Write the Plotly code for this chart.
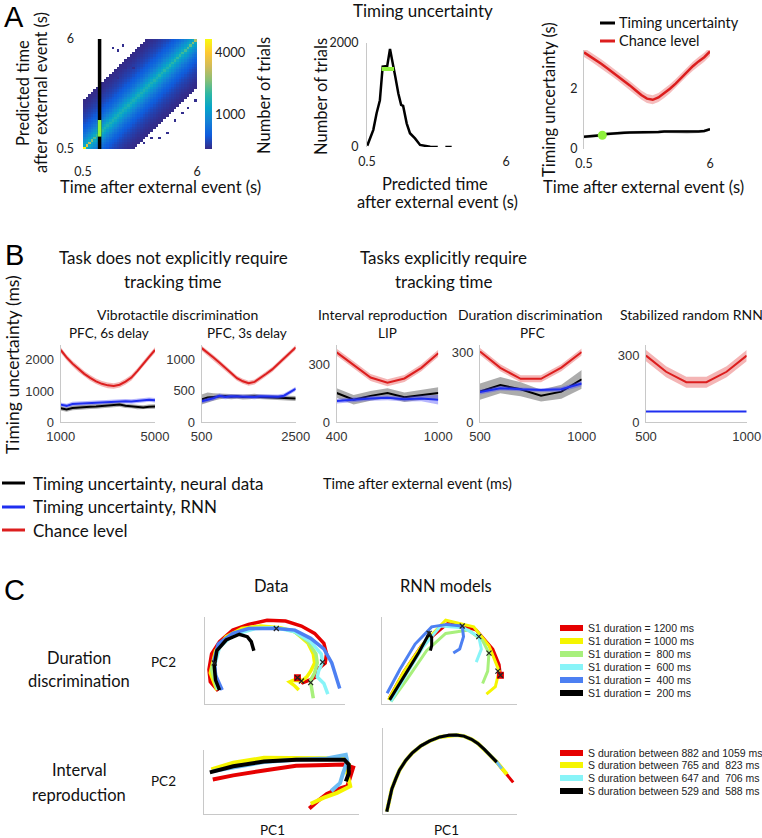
import math
import plotly.graph_objects as go

W, H = 762, 838
TXT = "Lato, sans-serif"
NUM = "Liberation Sans, Arial, sans-serif"

RED = "#dc1e1e"
BLUE = "#1f2ff0"

# ---------------- panel A data ----------------
hm_lo, hm_hi, hm_bins = 0.5, 6.0, 44
# counts as a function of distance (in bins) from the diagonal
band_profile = [1400, 1250, 1100, 980, 880, 800, 740, 690, 650, 620,
                590, 565, 545, 530, 515, 500, 490, 480, 475, 470]
# counts on the diagonal itself
diag_counts = [5200, 3400, 2600, 2100, 1800, 1600, 1500, 1450, 1450, 1400, 1400,
               1400, 1400, 1380, 1380, 1380, 1380, 1400, 1380, 1380, 1400, 1380,
               1400, 1400, 1380, 1400, 1400, 1450, 1400, 1450, 1450, 1500, 1450,
               1500, 1500, 1550, 1600, 1600, 1650, 1700, 1800, 1900, 2100, 2500]
outlier_x = [1.96, 2.20, 2.48, 2.77, 2.61, 2.93, 2.20, 0.68, 4.21, 4.62, 4.94,
             5.26, 5.58, 5.90, 3.41, 3.81, 2.77]
outlier_y = [5.62, 5.45, 5.70, 5.12, 4.62, 4.54, 4.04, 2.87, 1.12, 1.37, 1.95,
             2.37, 2.62, 2.95, 0.79, 1.04, 0.56]
outlier_count = 480
slice_time = 1.3
slice_band = [1.12, 1.95]

hist_x = [0.51, 0.65, 0.75, 0.88, 1.01, 1.12, 1.30, 1.41, 1.57, 1.62, 1.74, 1.85,
          1.93, 2.07, 2.20, 2.40, 2.60, 2.85, 3.00, 3.30, None, 3.60, 3.85]
hist_y = [25, 200, 330, 650, 900, 1545, 1560, 1885, 1510, 1350, 1030, 810,
          790, 455, 265, 165, 40, 20, 5, 0, None, 0, 0]
hist_band_x = [1.08, 1.57]
hist_band_y = [1500, 1500]

tu_x = [0.5, 0.75, 1.0, 1.25, 1.5, 1.75, 2.0, 2.25, 2.5, 2.75, 3.0, 3.25, 3.5,
        3.75, 4.0, 4.25, 4.5, 4.75, 5.0, 5.25, 5.5, 5.75, 6.0]
tu_chance = [3.22, 3.10, 2.98, 2.84, 2.70, 2.56, 2.42, 2.27, 2.12, 1.96, 1.80,
             1.68, 1.64, 1.72, 1.85, 2.01, 2.18, 2.38, 2.58, 2.76, 2.92, 3.06, 3.25]
tu_net = [0.41, 0.42, 0.43, 0.46, 0.50, 0.52, 0.53, 0.54, 0.55, 0.55, 0.56, 0.56,
          0.57, 0.57, 0.58, 0.58, 0.58, 0.57, 0.56, 0.56, 0.58, 0.60, 0.66]
tu_chance_err = [0.15] * 23
tu_net_err = [0.05] * 23
tu_dot = [1.3, 0.46]

# ---------------- panel B data ----------------
b1_x = [1000, 1250, 1500, 1750, 2000, 2250, 2500, 2750, 3000, 3250, 3500, 3750,
        4000, 4250, 4500, 4750, 5000]
b1_red = [2320, 2080, 1880, 1700, 1550, 1420, 1310, 1230, 1180, 1160, 1200, 1300,
          1430, 1640, 1880, 2100, 2320]
b1_blue = [560, 520, 580, 590, 600, 610, 630, 640, 650, 640, 660, 670, 660, 680,
           700, 720, 700]
b1_black = [440, 400, 450, 470, 480, 490, 500, 520, 530, 540, 560, 520, 510, 480,
            470, 490, 500]
b1_red_err = [90] * 17
b1_blue_err = [70] * 17
b1_black_err = [70] * 17

b2_x = [500, 625, 750, 875, 1000, 1125, 1250, 1375, 1500, 1625, 1750, 1875, 2000,
        2125, 2250, 2375, 2500]
b2_red = [1180, 1110, 1030, 950, 870, 780, 700, 650, 620, 640, 700, 770, 840, 930,
          1020, 1100, 1190]
b2_blue = [330, 350, 380, 420, 400, 410, 405, 410, 405, 400, 410, 405, 400, 405,
           420, 470, 530]
b2_black = [360, 390, 400, 410, 415, 405, 410, 400, 405, 410, 400, 395, 390, 395,
            385, 380, 375]
b2_red_err = [40] * 17
b2_blue_err = [35] * 17
b2_black_err = [80, 80, 60, 45, 40, 40, 40, 40, 40, 40, 40, 40, 40, 40, 40, 40, 40]

b3_x = [400, 500, 600, 700, 800, 900, 1000]
b3_red = [360, 295, 230, 203, 225, 280, 355]
b3_black = [150, 115, 135, 150, 128, 140, 150]
b3_blue = [108, 115, 122, 125, 118, 122, 115]
b3_red_err = [18] * 7
b3_black_err = [25, 25, 25, 25, 25, 25, 30]
b3_blue_err = [12, 12, 12, 12, 12, 15, 25]

b4_x = [500, 600, 700, 800, 900, 1000]
b4_red = [302, 232, 185, 185, 233, 300]
b4_black = [130, 158, 140, 113, 130, 183]
b4_blue = [128, 145, 140, 137, 140, 165]
b4_red_err = [15] * 6
b4_black_err = [35, 35, 30, 25, 30, 40]
b4_blue_err = [10, 10, 8, 8, 10, 12]

b5_x = [500, 600, 700, 800, 900, 1000]
b5_red = [300, 227, 180, 180, 227, 300]
b5_red_err = [25] * 6
b5_blue = [48, 48, 48, 48, 48, 48]

# ---------------- panel C data (normalised PC coordinates) ----------------
dd_red_x = [0.07, 0.01, 0.00, 0.02, 0.08, 0.18, 0.30, 0.44, 0.58, 0.70, 0.80, 0.87, 0.89, 0.88, 0.82, 0.81, 0.76, 0.71, 0.68]
dd_red_y = [0.13, 0.24, 0.39, 0.58, 0.73, 0.87, 0.94, 0.99, 0.98, 0.92, 0.83, 0.71, 0.58, 0.47, 0.39, 0.30, 0.26, 0.23, 0.28]
dd_yel_x = [0.06, 0.01, 0.05, 0.13, 0.25, 0.39, 0.54, 0.65, 0.75, 0.79, 0.80, 0.77, 0.74, 0.70, 0.64, 0.61, 0.65, 0.68]
dd_yel_y = [0.14, 0.35, 0.62, 0.79, 0.89, 0.92, 0.90, 0.85, 0.71, 0.58, 0.47, 0.37, 0.30, 0.25, 0.26, 0.24, 0.19, 0.14]
dd_grn_x = [0.06, 0.02, 0.06, 0.15, 0.30, 0.49, 0.63, 0.75, 0.81, 0.82, 0.80, 0.77, 0.77, 0.78, 0.79]
dd_grn_y = [0.16, 0.39, 0.62, 0.79, 0.89, 0.90, 0.87, 0.73, 0.58, 0.47, 0.35, 0.26, 0.23, 0.13, 0.04]
dd_cyn_x = [0.07, 0.04, 0.08, 0.18, 0.35, 0.51, 0.65, 0.77, 0.85, 0.86, 0.83, 0.82, 0.87, 0.90]
dd_cyn_y = [0.14, 0.43, 0.66, 0.81, 0.89, 0.90, 0.85, 0.73, 0.58, 0.48, 0.37, 0.30, 0.22, 0.09]
dd_blu_x = [0.10, 0.05, 0.04, 0.07, 0.18, 0.30, 0.51, 0.65, 0.77, 0.87, 0.93, 0.96, 0.99]
dd_blu_y = [0.14, 0.32, 0.51, 0.70, 0.83, 0.89, 0.89, 0.87, 0.77, 0.64, 0.47, 0.32, 0.16]
dd_blk_x = [0.08, 0.05, 0.04, 0.06, 0.13, 0.23, 0.29, 0.32, 0.34]
dd_blk_y = [0.14, 0.26, 0.43, 0.62, 0.75, 0.82, 0.79, 0.73, 0.62]
dd_mark_x = [0.04, 0.51, 0.86, 0.77, 0.70, 0.67]
dd_mark_y = [0.47, 0.89, 0.48, 0.23, 0.25, 0.29]

rd_blk_x = [0.03, 0.13, 0.26, 0.34, 0.36, 0.36, 0.35]
rd_blk_y = [0.02, 0.28, 0.60, 0.83, 0.78, 0.68, 0.62]
rd_blu_x = [0.01, 0.11, 0.23, 0.36, 0.48, 0.60, 0.61, 0.58, 0.53]
rd_blu_y = [0.10, 0.39, 0.70, 0.91, 0.94, 0.92, 0.79, 0.64, 0.59]
rd_cyn_x = [0.04, 0.16, 0.29, 0.43, 0.61, 0.73, 0.75, 0.71]
rd_cyn_y = [0.00, 0.33, 0.66, 0.92, 0.90, 0.79, 0.64, 0.48]
rd_grn_x = [0.04, 0.17, 0.32, 0.47, 0.65, 0.76, 0.81, 0.80, 0.76]
rd_grn_y = [0.00, 0.28, 0.62, 0.83, 0.87, 0.74, 0.59, 0.37, 0.22]
rd_yel_x = [0.02, 0.14, 0.29, 0.47, 0.69, 0.81, 0.89, 0.86, 0.79]
rd_yel_y = [0.02, 0.36, 0.70, 0.99, 0.91, 0.68, 0.37, 0.18, 0.09]
rd_red_x = [0.03, 0.14, 0.28, 0.50, 0.71, 0.84, 0.89, 0.90]
rd_red_y = [0.05, 0.36, 0.68, 0.97, 0.87, 0.64, 0.45, 0.32]
rd_mark_x = [0.34, 0.60, 0.73, 0.81, 0.88, 0.90]
rd_mark_y = [0.83, 0.92, 0.79, 0.59, 0.37, 0.32]

ir_red_x = [0.03, 0.17, 0.38, 0.60, 0.81, 0.93, 0.99, 0.97, 0.95, 0.88, 0.81, 0.75, 0.69]
ir_red_y = [0.54, 0.61, 0.69, 0.77, 0.78, 0.79, 0.74, 0.58, 0.43, 0.38, 0.30, 0.19, 0.06]
ir_yel_x = [0.02, 0.17, 0.38, 0.60, 0.81, 0.93, 0.96, 0.95, 0.97, 0.88, 0.79, 0.70]
ir_yel_y = [0.71, 0.82, 0.90, 0.90, 0.89, 0.89, 0.79, 0.64, 0.43, 0.32, 0.24, 0.14]
ir_cyn_x = [0.03, 0.17, 0.38, 0.60, 0.81, 0.94, 0.95, 0.92, 0.90, 0.84]
ir_cyn_y = [0.68, 0.74, 0.83, 0.87, 0.89, 0.95, 0.84, 0.64, 0.48, 0.35]
ir_blk_x = [0.01, 0.17, 0.38, 0.60, 0.81, 0.93, 0.96, 0.96, 0.94]
ir_blk_y = [0.66, 0.76, 0.84, 0.87, 0.87, 0.87, 0.79, 0.64, 0.51]

ri_x = [0.0, 0.02, 0.04, 0.07, 0.10, 0.15, 0.20, 0.27, 0.34, 0.42, 0.49, 0.55, 0.61,
        0.67, 0.72, 0.77, 0.82, 0.87, 0.91, 0.95, 1.0]
ri_y = [0.0, 0.15, 0.28, 0.40, 0.51, 0.63, 0.72, 0.81, 0.87, 0.92, 0.94, 0.945, 0.93,
        0.89, 0.84, 0.77, 0.69, 0.61, 0.53, 0.46, 0.36]
ri_end = {"red": 21, "yellow": 20, "cyan": 19, "black": 18}

leg_c1 = ["S1 duration = 1200 ms", "S1 duration = 1000 ms", "S1 duration =\u00a0 800 ms",
          "S1 duration =\u00a0 600 ms", "S1 duration =\u00a0 400 ms", "S1 duration =\u00a0 200 ms"]
leg_c2 = ["S duration between 882 and 1059 ms", "S duration between 765 and\u00a0 823 ms",
          "S duration between 647 and\u00a0 706 ms", "S duration between 529 and\u00a0 588 ms"]

C_RED, C_YEL, C_GRN, C_CYN, C_BLU = "#e60000", "#f5f500", "#a8f07c", "#88f4f8", "#4d80f2"
C_CYN_IR = "#6cbcf2"

parula = [[0.0, "#352a87"], [0.125, "#0f5cdd"], [0.25, "#1481d6"], [0.375, "#06a4ca"],
          [0.5, "#2eb7a4"], [0.625, "#87bf77"], [0.75, "#d1bb59"], [0.875, "#fec832"],
          [1.0, "#f9fb0e"]]


def xd(a, b):
    return [a / W, b / W]


def yd(top, bot):
    return [1 - bot / H, 1 - top / H]


fig = go.Figure()
layout_axes = {}


def axes(n, xdom, ydom, xr, yr, xt=None, yt=None, xline=False, yline=False,
         tickfont=None, xoff=2, yoff=2):
    tf = tickfont or dict(family=TXT, size=12.5, color="#222")
    sx = "" if n == 1 else str(n)
    layout_axes["xaxis" + sx] = dict(
        domain=xdom, range=xr, anchor="y" + sx, showgrid=False, zeroline=False,
        showline=xline, linecolor="#c8c8c8", linewidth=1, ticks="", automargin=False,
        tickvals=xt or [], showticklabels=bool(xt), tickfont=tf, fixedrange=True,
        ticklabelstandoff=xoff)
    layout_axes["yaxis" + sx] = dict(
        domain=ydom, range=yr, anchor="x" + sx, showgrid=False, zeroline=False,
        showline=yline, linecolor="#c8c8c8", linewidth=1, ticks="", automargin=False,
        tickvals=yt or [], showticklabels=bool(yt), tickfont=tf, fixedrange=True,
        ticklabelstandoff=yoff)
    return "x" + sx, "y" + sx


def line(ax, x, y, color, width, **kw):
    fig.add_trace(go.Scatter(x=x, y=y, mode="lines", xaxis=ax[0], yaxis=ax[1],
                             line=dict(color=color, width=width), showlegend=False,
                             hoverinfo="skip", **kw))


def band(ax, x, y, err, fill):
    up = [v + e for v, e in zip(y, err)]
    lo = [v - e for v, e in zip(y, err)]
    fig.add_trace(go.Scatter(x=list(x) + list(x)[::-1], y=up + lo[::-1], fill="toself",
                             fillcolor=fill, line=dict(width=0), mode="lines",
                             xaxis=ax[0], yaxis=ax[1], showlegend=False,
                             hoverinfo="skip"))


# ---------- A: heatmap ----------
step = (hm_hi - hm_lo) / hm_bins
centers = [round(hm_lo + step * (i + 0.5), 4) for i in range(hm_bins)]
z = []
for i in range(hm_bins):
    row = []
    for j in range(hm_bins):
        d = abs(i - j)
        if d == 0:
            v = diag_counts[j]
        elif d < len(band_profile):
            v = band_profile[d]
        else:
            v = None
        row.append(math.log10(v) if v else None)
    z.append(row)
for ox, oy in zip(outlier_x, outlier_y):
    j = min(int((ox - hm_lo) / step), hm_bins - 1)
    i = min(int((oy - hm_lo) / step), hm_bins - 1)
    z[i][j] = math.log10(outlier_count)

a1 = axes(1, xd(83, 197), yd(39, 149), [hm_lo, hm_hi], [hm_lo, hm_hi],
          xt=[0.5, 6], yt=[0.5, 6], xoff=13, yoff=8)
fig.add_trace(go.Heatmap(
    z=z, x=centers, y=centers, colorscale=parula, zmin=2.67, zmax=3.73,
    xaxis=a1[0], yaxis=a1[1], hoverongaps=False,
    colorbar=dict(x=205 / W, xanchor="left", y=1 - 94 / H, yanchor="middle",
                  len=110 / H, lenmode="fraction", thickness=7, outlinewidth=0,
                  tickvals=[3, math.log10(4000)], ticktext=["1000", "4000"],
                  ticks="", xpad=0, ypad=0,
                  tickfont=dict(family=TXT, size=13, color="#222"))))
line(a1, [slice_time, slice_time], [hm_lo, hm_hi], "black", 3.5)
line(a1, [slice_time, slice_time], slice_band, "#8ef03c", 3.5)

# ---------- A: histogram ----------
a2 = axes(2, xd(367, 506), yd(43, 147), [0.5, 6], [0, 2000], xt=[0.5, 6],
          yt=[0, 2000], yline=True, xoff=5, yoff=5)
line(a2, hist_x, hist_y, "black", 2.5)
line(a2, hist_band_x, hist_band_y, "#8ef03c", 4)

# ---------- A: timing uncertainty ----------
a3 = axes(3, xd(584, 710), yd(50, 149), [0.5, 6], [0, 3.3], xt=[0.5, 6],
          yt=[0, 2], yline=True, xoff=5, yoff=3)
band(a3, tu_x, tu_chance, tu_chance_err, "rgba(230,90,90,0.4)")
line(a3, tu_x, tu_chance, RED, 2.5)
band(a3, tu_x, tu_net, tu_net_err, "rgba(90,90,90,0.35)")
line(a3, tu_x, tu_net, "black", 2.5)
fig.add_trace(go.Scatter(x=[tu_dot[0]], y=[tu_dot[1]], mode="markers",
                         xaxis=a3[0], yaxis=a3[1], showlegend=False,
                         marker=dict(color="#8ef03c", size=9)))

# ---------- B ----------
btf = dict(family=NUM, size=13, color="#333")
b_specs = [
    (4, (60.7, 155), [1000, 5000], [0, 2480], [0, 1000, 2000], b1_x,
     [(b1_red, b1_red_err, RED, "rgba(230,90,90,0.45)"),
      (b1_blue, b1_blue_err, BLUE, "rgba(70,70,250,0.4)"),
      (b1_black, b1_black_err, "black", "rgba(90,90,90,0.5)")]),
    (5, (201.7, 295.7), [500, 2500], [0, 1230], [0, 500, 1000], b2_x,
     [(b2_red, b2_red_err, RED, "rgba(230,90,90,0.45)"),
      (b2_black, b2_black_err, "black", "rgba(90,90,90,0.5)"),
      (b2_blue, b2_blue_err, BLUE, "rgba(70,70,250,0.4)")]),
    (6, (336.7, 438.3), [400, 1000], [0, 398], [0, 300], b3_x,
     [(b3_red, b3_red_err, RED, "rgba(230,90,90,0.45)"),
      (b3_black, b3_black_err, "black", "rgba(90,90,90,0.5)"),
      (b3_blue, b3_blue_err, BLUE, "rgba(70,70,250,0.4)")]),
    (7, (480, 581.7), [500, 1000], [0, 330], [0, 300], b4_x,
     [(b4_red, b4_red_err, RED, "rgba(230,90,90,0.45)"),
      (b4_black, b4_black_err, "black", "rgba(90,90,90,0.5)"),
      (b4_blue, b4_blue_err, BLUE, "rgba(70,70,250,0.4)")]),
    (8, (646, 746.7), [500, 1000], [0, 348], [0, 300], b5_x,
     [(b5_red, b5_red_err, RED, "rgba(230,90,90,0.45)"),
      (b5_blue, None, BLUE, None)]),
]
for n, (x0, x1), xr, yr, yt, bx, series in b_specs:
    ax = axes(n, xd(x0, x1), yd(345, 422), xr, yr, xt=xr, yt=yt, xline=True,
              yline=True, tickfont=btf, xoff=2, yoff=3)
    for vals, err, col, fill in series:
        if err is not None:
            band(ax, bx, vals, err, fill)
        line(ax, bx, vals, col, 2)

# ---------- C ----------
cr = [-0.03, 1.03]
c1 = axes(9, xd(205, 345), yd(617, 704), cr, cr, xline=True, yline=True)
for xs, ys, col in [(dd_red_x, dd_red_y, C_RED), (dd_yel_x, dd_yel_y, C_YEL),
                    (dd_grn_x, dd_grn_y, C_GRN), (dd_cyn_x, dd_cyn_y, C_CYN),
                    (dd_blu_x, dd_blu_y, C_BLU), (dd_blk_x, dd_blk_y, "black")]:
    line(c1, xs, ys, col, 3.5)
fig.add_trace(go.Scatter(x=dd_mark_x[-1:], y=dd_mark_y[-1:], mode="markers",
                         xaxis=c1[0], yaxis=c1[1], showlegend=False,
                         marker=dict(symbol="square", size=7, color=C_RED)))
fig.add_trace(go.Scatter(x=dd_mark_x, y=dd_mark_y, mode="markers", xaxis=c1[0],
                         yaxis=c1[1], showlegend=False,
                         marker=dict(symbol="x-thin", size=5,
                                     line=dict(color="#222", width=1.2))))

c2 = axes(10, xd(382, 517), yd(617, 704), cr, cr, xline=True, yline=True)
for xs, ys, col in [(rd_red_x, rd_red_y, C_RED), (rd_yel_x, rd_yel_y, C_YEL),
                    (rd_grn_x, rd_grn_y, C_GRN), (rd_cyn_x, rd_cyn_y, C_CYN),
                    (rd_blu_x, rd_blu_y, C_BLU), (rd_blk_x, rd_blk_y, "black")]:
    line(c2, xs, ys, col, 3)
fig.add_trace(go.Scatter(x=rd_mark_x[-1:], y=rd_mark_y[-1:], mode="markers",
                         xaxis=c2[0], yaxis=c2[1], showlegend=False,
                         marker=dict(symbol="square", size=7, color=C_RED)))
fig.add_trace(go.Scatter(x=rd_mark_x, y=rd_mark_y, mode="markers", xaxis=c2[0],
                         yaxis=c2[1], showlegend=False,
                         marker=dict(symbol="x-thin", size=5,
                                     line=dict(color="#222", width=1.2))))

c3 = axes(11, xd(204, 359), yd(750, 814), cr, cr, xline=True, yline=True)
for xs, ys, col in [(ir_red_x, ir_red_y, C_RED), (ir_yel_x, ir_yel_y, C_YEL),
                    (ir_cyn_x, ir_cyn_y, C_CYN_IR), (ir_blk_x, ir_blk_y, "black")]:
    line(c3, xs, ys, col, 4)

c4 = axes(12, xd(383, 517), yd(728, 814), cr, cr, xline=True, yline=True)
for key, col, wd in [("red", C_RED, 3), ("yellow", C_YEL, 4),
                     ("cyan", C_CYN_IR, 3), ("black", "black", 3)]:
    k = ri_end[key]
    line(c4, ri_x[:k], ri_y[:k], col, wd)

# ---------- text ----------
ann = []


def text(t, x, y, size=16, family=TXT, angle=0, xanchor="center", color="#111"):
    ann.append(dict(text=t, x=x / W, y=1 - y / H, xref="paper", yref="paper",
                    showarrow=False, xanchor=xanchor, yanchor="middle",
                    textangle=angle, font=dict(family=family, size=size, color=color)))


for lab, y in [("A", 17), ("B", 255), ("C", 590)]:
    text(lab, 14, y, size=29, family=NUM, color="black")

text("Predicted time", 23, 93, size=16.5, angle=-90)
text("after external event (s)", 41, 93, size=16.5, angle=-90)
text("Time after external event (s)", 160, 187, size=16.5)
text("Number of trials", 264, 96, size=16.5, angle=-90)
text("Timing uncertainty", 423, 11, size=17)
text("Number of trials", 321, 97, size=16.5, angle=-90)
text("Predicted time", 435, 184, size=16.5)
text("after external event (s)", 437, 202, size=16.5)
text("Timing uncertainty (s)", 549, 100, size=16.5, angle=-90)
text("Time after external event (s)", 643, 187, size=16.5)
text("Timing uncertainty", 617, 23, size=14.5, xanchor="left")
text("Chance level", 617, 41, size=14.5, xanchor="left")

text("Task does not explicitly require", 173, 257, size=17)
text("tracking time", 173, 281, size=17)
text("Tasks explicitly require", 443, 257, size=17)
text("tracking time", 444, 281, size=17)
text("Timing uncertainty (ms)", 12, 365, size=17.5, angle=-90)
text("Vibrotactile discrimination", 177, 314, size=14)
text("PFC, 6s delay", 109, 333, size=13.5)
text("PFC, 3s delay", 247, 333, size=13.5)
text("Interval reproduction", 383, 314, size=14)
text("LIP", 387, 333, size=13.5)
text("Duration discrimination", 530, 314, size=14)
text("PFC", 532, 333, size=13.5)
text("Stabilized random RNN", 691, 314, size=14)
text("Time after external event (ms)", 418, 483, size=14.5)
for t, y in [("Timing uncertainty, neural data", 483), ("Timing uncertainty, RNN", 507),
             ("Chance level", 530)]:
    text(t, 31, y, size=17, xanchor="left")

text("Data", 271, 586, size=16.5)
text("RNN models", 446, 586, size=16.5)
text("Duration", 79, 658, size=16.5)
text("discrimination", 79, 681, size=16.5)
text("Interval", 79, 770, size=16.5)
text("reproduction", 79, 795, size=16.5)
text("PC2", 163, 662, size=13.5)
text("PC2", 163, 781, size=13.5)
text("PC1", 272, 830, size=13.5)
text("PC1", 446, 830, size=13.5)
for t, y in zip(leg_c1, [628, 641, 654, 667, 680, 693]):
    text(t, 586, y, size=10.5, family=NUM, xanchor="left", color="#222")
for t, y in zip(leg_c2, [753, 765, 778, 791]):
    text(t, 586, y, size=10.5, family=NUM, xanchor="left", color="#222")

# ---------- legend samples ----------
shapes = []


def seg(x0, x1, y, color, width):
    shapes.append(dict(type="line", xref="paper", yref="paper", x0=x0 / W, x1=x1 / W,
                       y0=1 - y / H, y1=1 - y / H, line=dict(color=color, width=width)))


seg(600, 615, 23, "black", 3)
seg(600, 615, 41, RED, 3)
seg(2, 25, 483, "black", 3)
seg(2, 25, 507, BLUE, 3)
seg(2, 25, 530, RED, 3)
for col, y in zip([C_RED, C_YEL, C_GRN, C_CYN, C_BLU, "black"],
                  [628, 641, 654, 667, 680, 693]):
    seg(560, 583, y, col, 6)
for col, y in zip([C_RED, C_YEL, C_CYN, "black"], [753, 765, 778, 791]):
    seg(560, 583, y, col, 6)

fig.update_layout(
    width=W, height=H, autosize=False,
    margin=dict(l=0, r=0, t=0, b=0, pad=0, autoexpand=False),
    paper_bgcolor="white", plot_bgcolor="rgba(0,0,0,0)", showlegend=False,
    annotations=ann, shapes=shapes, **layout_axes)

fig.write_html("out.html", config={"displayModeBar": False},
               post_script="document.body.style.margin='0px';")
